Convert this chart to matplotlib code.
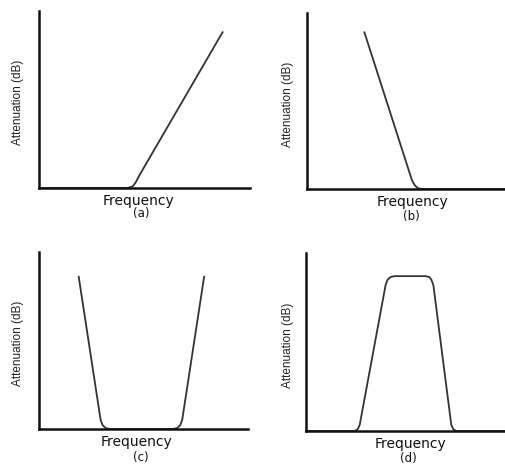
import matplotlib
matplotlib.use('Agg')
import matplotlib.pyplot as plt

W, H = 505, 469

# curve points, frequency / attenuation (arbitrary units 0..10)
freq_a = [0, 4.2, 4.45, 4.6, 4.75, 8.7]
att_a = [0, 0, 0.1, 0.35, 0.7, 8.8]

freq_b = [2.9, 5.3, 5.45, 5.6, 5.8, 10]
att_b = [8.9, 0.5, 0.2, 0.05, 0, 0]

freq_c = [1.9, 2.95, 3.05, 3.2, 3.4, 6.4, 6.6, 6.75, 6.85, 7.9]
att_c = [8.6, 0.5, 0.2, 0.05, 0, 0, 0.05, 0.2, 0.5, 8.6]

freq_d = [0, 2.45, 2.6, 2.7, 4.0, 4.1, 4.25, 4.45, 6.0, 6.2, 6.3, 6.4, 7.3, 7.4, 7.55, 10]
att_d = [0, 0, 0.1, 0.35, 8.2, 8.5, 8.65, 8.7, 8.7, 8.65, 8.5, 8.2, 0.35, 0.1, 0, 0]

panels = ['(a)', '(b)', '(c)', '(d)']
# axes box in pixels: left, right, top, bottom
boxes = [(39, 250, 11, 188), (307, 505, 13, 189), (39, 248, 252, 429), (306, 505, 253, 431)]
curves = [(freq_a, att_a), (freq_b, att_b), (freq_c, att_c), (freq_d, att_d)]
# label centres in pixels: frequency x, frequency y, panel x, panel y, ylabel x
labels = [(138, 201, 141, 213, 18), (412, 202, 411, 216, 288),
          (137, 442, 141, 457, 18), (410, 444, 408, 458, 288)]

fig = plt.figure(figsize=(W / 100, H / 100), dpi=100)
fig.patch.set_facecolor('white')

for i in range(4):
    l, r, t, b = boxes[i]
    ax = fig.add_axes([l / W, 1 - b / H, (r - l) / W, (b - t) / H])
    x, y = curves[i]
    ax.plot(x, y, color='#333333', lw=1.3, solid_joinstyle='round', clip_on=False)
    ax.set_xlim(0, 10)
    ax.set_ylim(0, 10)
    ax.spines['top'].set_visible(False)
    ax.spines['right'].set_visible(False)
    for s in ['left', 'bottom']:
        ax.spines[s].set_linewidth(1.8)
        ax.spines[s].set_color('#111111')
    ax.set_xticks([])
    ax.set_yticks([])
    ax.patch.set_alpha(0)

    fx, fy, px, py, yx = labels[i]
    fig.text(fx / W, 1 - fy / H, 'Frequency', ha='center', va='center',
             fontsize=10, family='DejaVu Sans', color='#111111')
    fig.text(px / W, 1 - py / H, panels[i], ha='center', va='center',
             fontsize=8.5, family='DejaVu Sans', color='#111111')
    fig.text(yx / W, 1 - ((t + b) / 2 + 3) / H, 'Attenuation (dB)', ha='center', va='center',
             rotation=90, fontsize=8.5, family='Liberation Sans', color='#222222')

fig.savefig('out.png', dpi=100, facecolor='white')
